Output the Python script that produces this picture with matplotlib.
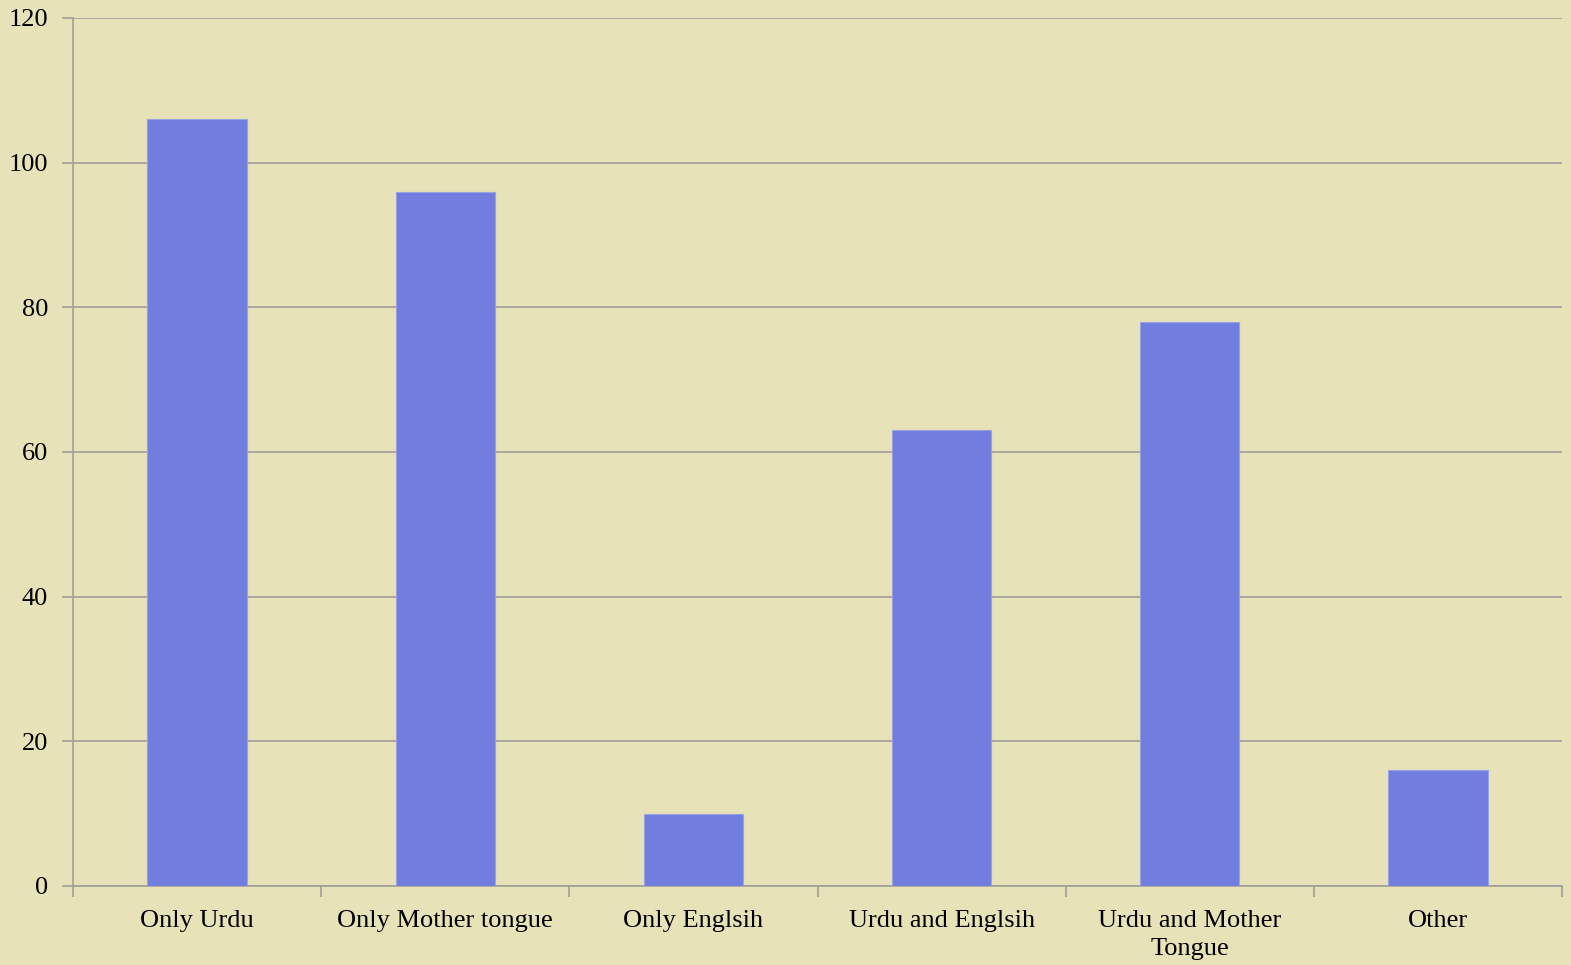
import matplotlib.pyplot as plt

categories = ['Only Urdu', 'Only Mother tongue', 'Only Englsih', 'Urdu and Englsih',
              'Urdu and Mother\nTongue', 'Other']
counts = [106, 96, 10, 63, 78, 16]
y_ticks = [0, 20, 40, 60, 80, 100, 120]

bg = '#E8E2B8'
bar_color = '#717DDF'
line_color = '#A09E98'

plt.rcParams['font.family'] = ['Liberation Serif', 'DejaVu Serif']

fig = plt.figure(figsize=(15.71, 9.65), dpi=100, facecolor=bg)
ax = fig.add_axes([73 / 1571, 79 / 965, 1489 / 1571, 868 / 965])
ax.set_facecolor(bg)

x = list(range(len(categories)))
ax.bar(x, counts, width=0.4, color=bar_color, edgecolor='#9AA2E6', linewidth=0.8, zorder=3)

ax.set_xlim(-0.5, len(categories) - 0.5)
ax.set_ylim(0, 120)
ax.set_yticks(y_ticks)
ax.set_yticklabels([str(v) for v in y_ticks], fontsize=19)
ax.yaxis.grid(True, color=line_color, linewidth=1.2, zorder=0)

# category labels sit between the boundary tick marks
ax.set_xticks([i + 0.5 for i in range(-1, len(categories))])
ax.set_xticklabels([])
ax.set_xticks(x, minor=True)
ax.set_xticklabels(categories, minor=True, fontsize=19, va='top', linespacing=1.35)
ax.tick_params(axis='x', which='minor', length=0, pad=17)
ax.tick_params(axis='x', which='major', length=8, width=1.2, color=line_color)
ax.tick_params(axis='y', length=8, width=1.2, color=line_color, pad=10)

for side in ['top', 'right']:
    ax.spines[side].set_visible(False)
for side in ['left', 'bottom']:
    ax.spines[side].set_color(line_color)
    ax.spines[side].set_linewidth(1.2)

fig.savefig('out.png', dpi=100, facecolor=bg)
